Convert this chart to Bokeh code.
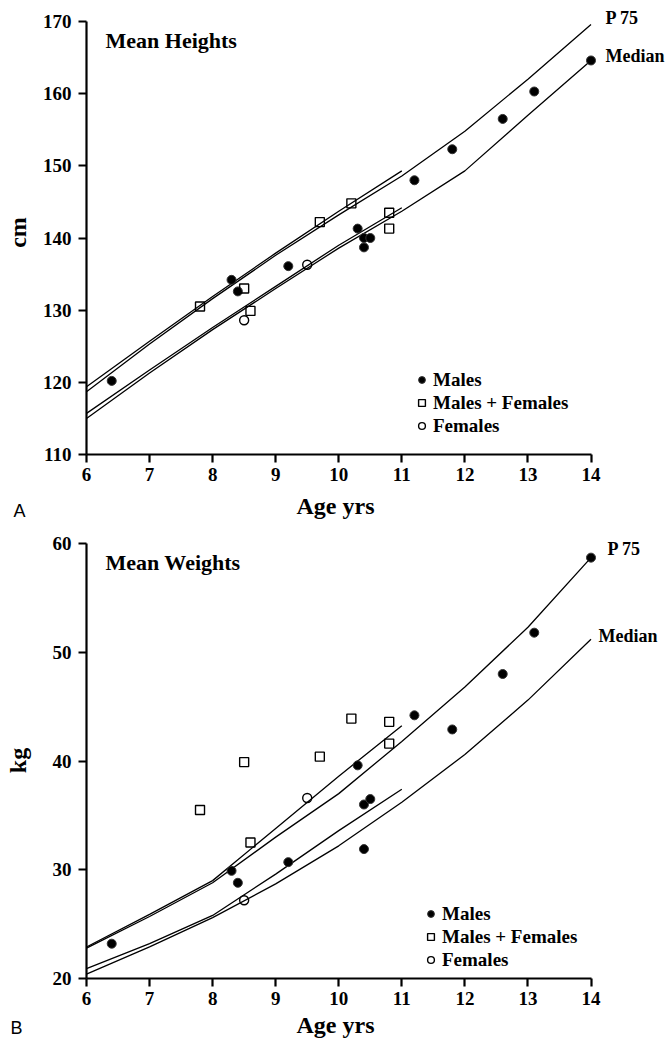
import math
from bokeh.plotting import figure
from bokeh.models import Range1d, Label, Legend, LegendItem
from bokeh.layouts import column
from bokeh.embed import file_html
from bokeh.resources import INLINE

# ---------------- data: heights ----------------
ref_age = [6, 7, 8, 9, 10, 11, 12, 13, 14]
h_p75 = [118.7, 125.3, 131.6, 137.6, 143.2, 148.6, 154.8, 162.0, 169.6]
h_median = [115.0, 121.3, 127.3, 133.0, 138.6, 143.7, 149.3, 157.0, 164.6]
ref2_age = [6, 7, 8, 9, 10, 11]
h_p75_b = [119.4, 125.7, 131.9, 137.9, 143.7, 149.3]
h_median_b = [115.7, 121.7, 127.6, 133.3, 139.0, 144.2]

males_age = [6.4, 8.3, 8.4, 9.2, 10.3, 10.4, 10.5, 10.4, 11.2, 11.8, 12.6, 13.1, 14.0]
males_h = [120.2, 134.2, 132.6, 136.1, 141.3, 140.0, 140.0, 138.7, 148.0, 152.3, 156.5, 160.3, 164.6]
mf_age = [7.8, 8.5, 8.6, 9.7, 10.2, 10.8, 10.8]
mf_h = [130.5, 133.0, 129.9, 142.2, 144.8, 143.5, 141.3]
fem_age = [8.5, 9.5]
fem_h = [128.6, 136.3]

# ---------------- data: weights ----------------
w_p75 = [22.8, 25.7, 28.8, 33.0, 37.0, 41.8, 46.8, 52.3, 58.7]
w_median = [20.4, 22.9, 25.6, 28.7, 32.2, 36.2, 40.6, 45.6, 51.2]
w_p75_b = [22.9, 25.9, 29.0, 33.8, 38.6, 43.25]
w_median_b = [20.9, 23.2, 25.8, 29.6, 33.6, 37.4]

males_w = [23.2, 29.9, 28.8, 30.7, 39.6, 36.0, 36.5, 31.9, 44.2, 42.9, 48.0, 51.8, 58.7]
mf_w = [35.5, 39.9, 32.5, 40.4, 43.9, 43.6, 41.6]
fem_w = [27.2, 36.6]

x_ticks = [6, 7, 8, 9, 10, 11, 12, 13, 14]
h_ticks = [110, 120, 130, 140, 150, 160, 170]
w_ticks = [20, 30, 40, 50, 60]

SERIF = "Liberation Serif"
SANS = "Liberation Sans"

# ---------------- layout geometry (pixels) ----------------
FIG_W = 668
AXIS_LEFT_PX = 86          # figure-left to age 6
PX_PER_YEAR = 504.5 / 8.0


def make_panel(height, top_px, axis_px, y_lo, y_hi, yticks, ylabel,
               p75, med, p75b, medb, m_vals, mf_vals, f_vals,
               title, title_px, p75_px, med_px, letter, letter_px, xlabel_px, ylabel_px,
               legend_loc):
    ppu_y = axis_px / (y_hi - y_lo)
    x_start = 6 - AXIS_LEFT_PX / PX_PER_YEAR
    x_end = x_start + FIG_W / PX_PER_YEAR
    y_end = y_hi + top_px / ppu_y
    y_start = y_end - height / ppu_y

    def dx(px):   # figure-relative pixel -> data x
        return x_start + px / PX_PER_YEAR

    def dy(py):   # figure-relative pixel (from top) -> data y
        return y_end - py / ppu_y

    p = figure(width=FIG_W, height=height, output_backend="svg", toolbar_location=None,
               x_range=Range1d(x_start, x_end), y_range=Range1d(y_start, y_end),
               min_border_left=0, min_border_right=0,
               min_border_top=0, min_border_bottom=0)
    p.outline_line_color = None
    p.xgrid.grid_line_color = None
    p.ygrid.grid_line_color = None
    p.background_fill_color = "white"
    p.border_fill_color = "white"

    for ax in (p.xaxis[0], p.yaxis[0]):
        ax.axis_line_width = 2.2
        ax.axis_line_color = "black"
        ax.major_tick_line_width = 2.2
        ax.major_tick_line_color = "black"
        ax.major_tick_out = 8
        ax.major_tick_in = 0
        ax.minor_tick_line_color = None
        ax.major_label_text_font = SERIF
        ax.major_label_text_font_style = "bold"
        ax.major_label_text_font_size = "19px"
        ax.major_label_text_color = "black"

    p.xaxis.ticker = x_ticks
    p.xaxis.bounds = (6, 14)
    p.xaxis.fixed_location = y_lo
    p.xaxis.major_label_standoff = 5
    p.yaxis.ticker = yticks
    p.yaxis.bounds = (y_lo, y_hi)
    p.yaxis.fixed_location = 6
    p.yaxis.major_label_standoff = 7

    # reference curves
    p.line(ref_age, p75, line_color="black", line_width=1.3)
    p.line(ref_age, med, line_color="black", line_width=1.3)
    p.line(ref2_age, p75b, line_color="black", line_width=1.3)
    p.line(ref2_age, medb, line_color="black", line_width=1.3)

    # data points
    r_m = p.scatter(males_age, m_vals, marker="circle", size=9,
                    fill_color="black", line_color="#333333", line_width=1)
    r_mf = p.scatter(mf_age, mf_vals, marker="square", size=9,
                     fill_color=None, line_color="black", line_width=1.4)
    r_f = p.scatter(fem_age, f_vals, marker="circle", size=9,
                    fill_color=None, line_color="black", line_width=1.4)

    legend = Legend(items=[LegendItem(label="Males", renderers=[r_m]),
                           LegendItem(label="Males + Females", renderers=[r_mf]),
                           LegendItem(label="Females", renderers=[r_f])],
                    location=legend_loc, orientation="vertical",
                    border_line_color=None, background_fill_alpha=0,
                    label_text_font=SERIF, label_text_font_style="bold",
                    label_text_font_size="19px", label_text_color="black",
                    glyph_width=17, glyph_height=23, label_height=23,
                    label_standoff=3, spacing=0, padding=0, margin=0)
    p.add_layout(legend, "center")

    def lab(text, px, py, size, font=SERIF, style="bold", align="left", angle=0.0):
        p.add_layout(Label(x=dx(px), y=dy(py), text=text, text_font=font,
                           text_font_style=style, text_font_size=size,
                           text_color="black", text_baseline="alphabetic",
                           text_align=align, angle=angle))

    lab(title, title_px[0], title_px[1], "22px")
    lab("P 75", p75_px[0], p75_px[1], "18px")
    lab("Median", med_px[0], med_px[1], "18px")
    lab(letter, letter_px[0], letter_px[1], "18px", font=SANS, style="normal")
    lab("Age yrs", xlabel_px[0], xlabel_px[1], "24px", align="center")
    lab(ylabel, ylabel_px[0], ylabel_px[1], "24px", align="center", angle=math.pi / 2)
    return p


# top panel spans page y 0..527, bottom panel 527..1041
top = make_panel(527, 21, 433, 110, 170, h_ticks, "cm",
                 h_p75, h_median, h_p75_b, h_median_b, males_h, mf_h, fem_h,
                 "Mean Heights", (105, 40), (605, 17), (605, 55), "A", (13, 510),
                 (335, 505), (17, 232), (413, 90))

bottom = make_panel(514, 16, 435, 20, 60, w_ticks, "kg",
                    w_p75, w_median, w_p75_b, w_median_b, males_w, mf_w, fem_w,
                    "Mean Weights", (105, 35), (607, 21), (598, 108), "B", (10, 500),
                    (335, 497), (17, 233), (422, 70))

layout = column(top, bottom, spacing=0)
open("out.html", "w").write(file_html(layout, INLINE))
